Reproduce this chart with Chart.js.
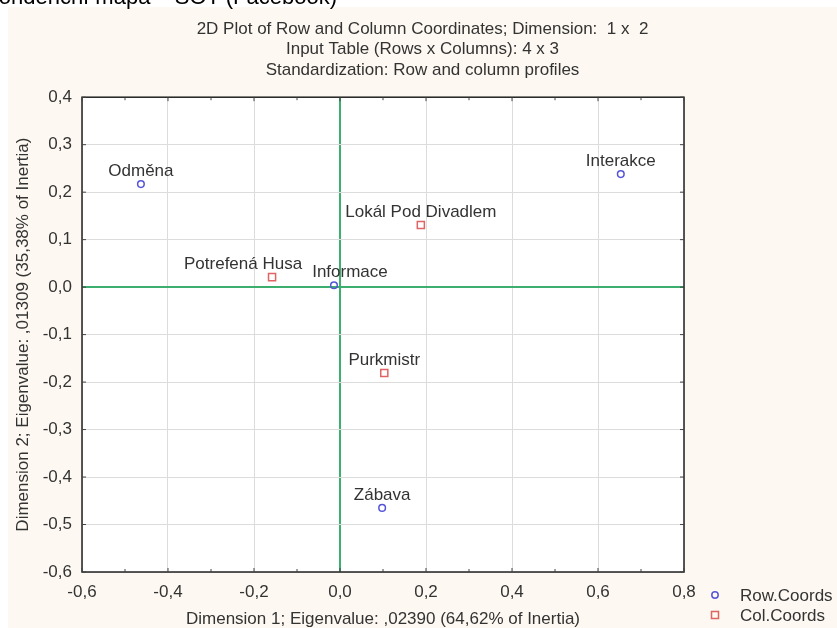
<!DOCTYPE html>
<html>
<head>
<meta charset="utf-8">
<script src="https://cdn.jsdelivr.net/npm/chart.js@4.4.0/dist/chart.umd.min.js"></script>
<style>
  html, body { margin: 0; padding: 0; background: #fff; overflow: hidden; }
  body { width: 837px; height: 628px; position: relative; font-family: "Liberation Sans", Arial, sans-serif; }
  #heading { position: absolute; left: -71px; top: -14px; font-size: 22px; line-height: 22px; color: #000; white-space: nowrap; z-index: 2; }
  #panel { position: absolute; left: 8px; top: 7px; width: 829px; height: 621px; background: #fdf8f1; }
</style>
</head>
<body>
<div id="heading">Korespondenční mapa – SOT (Facebook)</div>
<div id="panel"><canvas id="my-chart" width="829" height="621"></canvas></div>
<script>
// row coordinates (dimension 1, dimension 2)
const rowNames = ["Odměna", "Interakce", "Informace", "Zábava"];
const rowX = [-0.463, 0.653, -0.014, 0.098];
const rowY = [0.217, 0.238, 0.004, -0.465];

// column coordinates
const colNames = ["Potrefená Husa", "Lokál Pod Divadlem", "Purkmistr"];
const colX = [-0.158, 0.188, 0.103];
const colY = [0.021, 0.131, -0.181];

// axis ranges / ticks
const xTicks = [-0.6, -0.4, -0.2, 0.0, 0.2, 0.4, 0.6, 0.8];
const yTicks = [-0.6, -0.5, -0.4, -0.3, -0.2, -0.1, 0.0, 0.1, 0.2, 0.3, 0.4];

const titleLines = [
    "2D Plot of Row and Column Coordinates; Dimension:  1 x  2",
    "Input Table (Rows x Columns): 4 x 3",
    "Standardization: Row and column profiles"
];
const xTitle = "Dimension 1; Eigenvalue: ,02390 (64,62% of Inertia)";
const yTitle = "Dimension 2; Eigenvalue: ,01309 (35,38% of Inertia)";

// labels that were moved sideways so they don't overlap
const labelShift = { "Potrefená Husa": -29, "Informace": 16 };

const fontFamily = '"Liberation Sans", Arial, sans-serif';
const green = "#3cae6e";
const gridGray = "#dcdcdc";

Chart.defaults.font.family = fontFamily;
Chart.defaults.font.size = 17;
Chart.defaults.color = "#333";

const toPoints = (xs, ys) => xs.map((x, i) => ({ x: x, y: ys[i] }));
const fmt = v => (Math.abs(v) < 1e-9 ? 0 : v).toFixed(1).replace(".", ",");
const isZero = c => c.tick && Math.abs(c.tick.value) < 1e-9;

// white plot area + black frame with small inward ticks
const plotFrame = {
    id: "plotFrame",
    beforeDraw(chart) {
        const a = chart.chartArea;
        const c = chart.ctx;
        c.save();
        c.fillStyle = "#fff";
        c.fillRect(a.left, a.top, a.right - a.left, a.bottom - a.top);
        c.restore();
    },
    afterDatasetsDraw(chart) {
        const a = chart.chartArea;
        const c = chart.ctx;
        const sx = chart.scales.x;
        const sy = chart.scales.y;
        c.save();
        c.strokeStyle = "#222";
        c.lineWidth = 1.5;
        c.strokeRect(a.left, a.top, a.right - a.left, a.bottom - a.top);

        // small tick marks on the inside of the frame
        c.lineWidth = 1;
        c.strokeStyle = "#444";
        c.beginPath();
        xTicks.forEach((v, i) => {
            const px = sx.getPixelForValue(v);
            c.moveTo(px, a.bottom); c.lineTo(px, a.bottom - 4);
            c.moveTo(px, a.top); c.lineTo(px, a.top + 4);
            if (i < xTicks.length - 1) {
                const mid = (sx.getPixelForValue(xTicks[i + 1]) + px) / 2;
                c.moveTo(mid, a.bottom); c.lineTo(mid, a.bottom - 3);
                c.moveTo(mid, a.top); c.lineTo(mid, a.top + 3);
            }
        });
        yTicks.forEach(v => {
            const py = sy.getPixelForValue(v);
            c.moveTo(a.left, py); c.lineTo(a.left + 4, py);
            c.moveTo(a.right, py); c.lineTo(a.right - 4, py);
        });
        c.stroke();
        c.restore();
    }
};

// names above each point
const pointLabels = {
    id: "pointLabels",
    afterDatasetsDraw(chart) {
        const c = chart.ctx;
        c.save();
        c.font = "17px " + fontFamily;
        c.fillStyle = "#333";
        c.textAlign = "center";
        c.textBaseline = "alphabetic";
        chart.data.datasets.forEach((ds, i) => {
            chart.getDatasetMeta(i).data.forEach((pt, j) => {
                const name = ds.names[j];
                c.fillText(name, pt.x + (labelShift[name] || 0), pt.y - 8);
            });
        });
        c.restore();
    }
};

// legend in the bottom right corner, next to the x ticks
const cornerLegend = {
    id: "cornerLegend",
    afterDraw(chart) {
        const a = chart.chartArea;
        const c = chart.ctx;
        c.save();
        c.font = "17px " + fontFamily;
        c.textBaseline = "middle";
        chart.data.datasets.forEach((ds, i) => {
            const mx = a.right + 31;
            const my = a.bottom + 23 + i * 20;
            c.strokeStyle = ds.borderColor;
            c.lineWidth = 1.5;
            c.beginPath();
            if (ds.pointStyle === "rect") {
                c.rect(mx - 3.5, my - 3.5, 7, 7);
            } else {
                c.arc(mx, my, 3.2, 0, Math.PI * 2);
            }
            c.stroke();
            c.fillStyle = "#333";
            c.fillText(ds.label, a.right + 56, my + 1);
        });
        c.restore();
    }
};

const ctx = document.getElementById("my-chart").getContext("2d");

new Chart(ctx, {
    type: "scatter",
    data: {
        datasets: [
            {
                label: "Row.Coords",
                names: rowNames,
                data: toPoints(rowX, rowY),
                pointStyle: "circle",
                pointRadius: 3.3,
                borderWidth: 1.5,
                borderColor: "#5555d8",
                backgroundColor: "rgba(255,255,255,0)"
            },
            {
                label: "Col.Coords",
                names: colNames,
                data: toPoints(colX, colY),
                pointStyle: "rect",
                pointRadius: 5,
                borderWidth: 1.5,
                borderColor: "#e06464",
                backgroundColor: "rgba(255,255,255,0)"
            }
        ]
    },
    options: {
        responsive: false,
        animation: false,
        layout: { padding: 0 },
        plugins: {
            legend: { display: false },
            tooltip: { enabled: false },
            title: {
                display: true,
                text: titleLines,
                color: "#333",
                font: { size: 17, weight: "normal", lineHeight: 1.2 },
                padding: { top: 12, bottom: 17 }
            }
        },
        scales: {
            x: {
                type: "linear",
                position: "bottom",
                min: xTicks[0],
                max: xTicks[xTicks.length - 1],
                ticks: { stepSize: 0.2, padding: 10, maxRotation: 0, autoSkip: false, callback: fmt, color: "#333" },
                grid: {
                    drawTicks: false,
                    color: c => isZero(c) ? green : gridGray,
                    lineWidth: c => isZero(c) ? 2 : 1
                },
                border: { display: false },
                title: { display: true, text: xTitle, color: "#333", font: { size: 17 }, padding: { top: 0, bottom: -2 } },
                afterFit: s => { s.height = 56; }
            },
            y: {
                type: "linear",
                position: "left",
                min: yTicks[0],
                max: yTicks[yTicks.length - 1],
                ticks: { stepSize: 0.1, padding: 10, autoSkip: false, callback: fmt, color: "#333" },
                grid: {
                    drawTicks: false,
                    color: c => isZero(c) ? green : gridGray,
                    lineWidth: c => isZero(c) ? 2 : 1
                },
                border: { display: false },
                title: { display: true, text: yTitle, color: "#333", font: { size: 17 }, padding: { top: 5, bottom: 0 } },
                afterFit: s => { s.width = 74; }
            },
            // empty space on the right for the legend
            side: {
                type: "linear",
                position: "right",
                ticks: { display: false },
                grid: { display: false },
                border: { display: false },
                afterFit: s => { s.width = 153; }
            }
        }
    },
    plugins: [plotFrame, pointLabels, cornerLegend]
});
</script>
</body>
</html>
